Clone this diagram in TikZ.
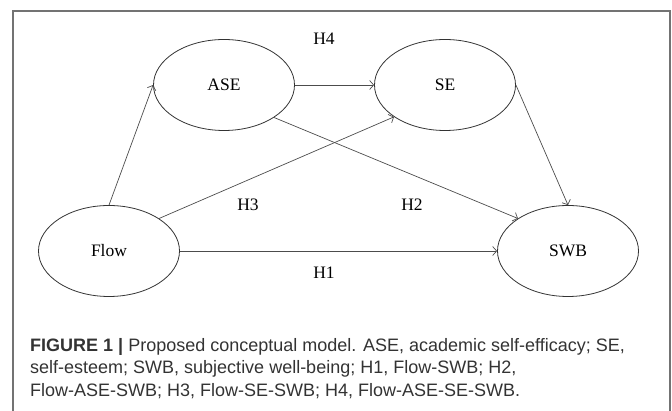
\documentclass[tikz,border=0pt]{standalone}
\usepackage{fontspec}
\setmainfont{Liberation Serif}
\newfontfamily\capfont{Liberation Sans}
\usepackage{tikz}
\usetikzlibrary{arrows.meta,shapes.geometric}

\begin{document}
\begin{tikzpicture}[x=1pt,y=-1pt,
		latent/.style={ellipse,draw=black!80,line width=0.8pt,minimum width=141pt,minimum height=91pt,inner sep=0pt,font=\fontsize{17.5}{20}\selectfont},
		hyp/.style={inner sep=0pt,font=\fontsize{17.5}{20}\selectfont},
		path/.style={draw=black!70,line width=0.7pt,-{Straight Barb[length=4pt,width=9pt]}},
		capline/.style={anchor=base west,inner sep=0pt,text=black!80,font=\capfont\fontsize{18}{22}\selectfont}]
		\useasboundingbox (0,0) rectangle (672,411);
		\draw[black!55,line width=1.2pt] (13,411) -- (13,11) -- (670,11) -- (670,411);
		
		\node[latent] (ase) at (224,85) {ASE};
		\node[latent] (se) at (445,85) {SE};
		\node[latent] (flow) at (109,251) {Flow};
		\node[latent] (swb) at (568,251) {SWB};
		
		\node[hyp] (h4) at (324,39) {H4};
		\node[hyp] (h3) at (248,205) {H3};
		\node[hyp] (h2) at (412,205) {H2};
		\node[hyp] (h1) at (324,273) {H1};
		
		\draw[path] (flow.north) -- (ase.west);
		\draw[path] (flow.33) -- (se.212);
		\draw[path] (ase.east) -- (se.west);
		\draw[path] (ase.-33) -- (swb.147);
		\draw[path] (se.east) -- (swb.north);
		\draw[path] (flow.east) -- (swb.west);
		
		% caption
		\node[capline] (cap1) at (30,352) {\textbf{FIGURE 1} \textbf{|} Proposed conceptual model. ASE, academic self-efficacy; SE,};
		\node[capline] (cap2) at (30,374) {self-esteem; SWB, subjective well-being; H1, Flow-SWB; H2,};
		\node[capline] (cap3) at (30,397) {Flow-ASE-SWB; H3, Flow-SE-SWB; H4, Flow-ASE-SE-SWB.};
	\end{tikzpicture}
\end{document}
